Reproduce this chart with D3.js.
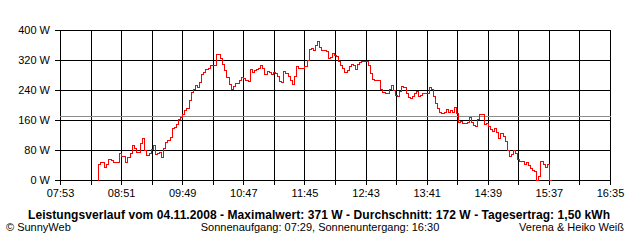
<!DOCTYPE html>
<html>
<head>
<meta charset="utf-8">
<script src="https://cdn.jsdelivr.net/npm/d3@7"></script>
<style>
  body { margin: 0; background: #fff; }
  svg { display: block; font-family: "Liberation Sans", Arial, sans-serif; }
</style>
</head>
<body>
<div id="chart"></div>
<script>
// readings: one value every 2 minutes, starting 08:29
const startTime = "08:29";
const stepMinutes = 2;
const watts = [
  0, 44, 49, 49, 35, 43, 56, 53, 48, 49,
  49, 71, 65, 64, 49, 62, 71, 93, 85, 75,
  75, 98, 111, 80, 67, 71, 84, 93, 70, 71,
  75, 62, 85, 102, 107, 115, 138, 142, 150, 164,
  167, 175, 187, 191, 213, 235, 244, 253, 249, 262,
  284, 289, 296, 298, 307, 307, 307, 336, 335, 326,
  310, 293, 276, 255, 242, 250, 259, 258, 268, 275,
  271, 267, 265, 295, 288, 293, 297, 300, 307, 298,
  284, 292, 287, 284, 289, 286, 277, 265, 262, 291,
  286, 278, 268, 256, 277, 303, 300, 298, 300, 304,
  320, 350, 351, 348, 360, 371, 355, 348, 348, 345,
  325, 328, 338, 333, 330, 318, 306, 298, 288, 293,
  305, 310, 307, 297, 309, 316, 317, 318, 318, 308,
  285, 270, 268, 268, 267, 242, 234, 231, 232, 244,
  253, 240, 227, 224, 238, 251, 248, 231, 222, 218,
  224, 231, 237, 225, 226, 231, 232, 233, 248, 242,
  225, 205, 193, 182, 180, 181, 190, 181, 188, 182,
  196, 180, 156, 158, 153, 153, 155, 168, 154, 148,
  143, 162, 175, 176, 150, 151, 145, 135, 131, 138,
  128, 112, 125, 118, 103, 80, 64, 69, 79, 73,
  57, 51, 52, 44, 47, 41, 32, 27, 25, 0,
  12, 52, 42, 36, 43, 0
];
const averageWatts = 172;
const yTicks = [0, 80, 160, 240, 320, 400];
const xTickLabels = ["07:53", "08:51", "09:49", "10:47", "11:45", "12:43", "13:41", "14:39", "15:37", "16:35"];
const axisStart = "07:53";
const axisEnd = "16:35";
const gridStepMinutes = 29;

const titleText = "Leistungsverlauf vom 04.11.2008 - Maximalwert: 371 W - Durchschnitt: 172 W - Tagesertrag: 1,50 kWh";
const copyrightText = "\u00A9 SunnyWeb";
const sunText = "Sonnenaufgang: 07:29, Sonnenuntergang: 16:30";
const authorText = "Verena & Heiko Wei\u00DF";

const toMin = s => { const [h, m] = s.split(":").map(Number); return h * 60 + m; };

const W = 640, H = 240;
const plotLeft = 60, plotRight = 610, plotTop = 30, plotBottom = 180;

const svg = d3.select("#chart").append("svg")
  .attr("width", W)
  .attr("height", H);

const x = d3.scaleLinear()
  .domain([toMin(axisStart), toMin(axisEnd)])
  .range([plotLeft, plotRight]);

const y = d3.scaleLinear()
  .domain([0, 400])
  .range([plotBottom, plotTop]);

const gridTimes = d3.range(toMin(axisStart), toMin(axisEnd) + 1, gridStepMinutes);

// grid + ticks (extend 5px outside the box)
const grid = svg.append("g")
  .attr("stroke", "#000")
  .attr("stroke-width", 1)
  .attr("shape-rendering", "crispEdges");

grid.selectAll("line.h")
  .data(yTicks)
  .join("line")
  .attr("class", "h")
  .attr("x1", plotLeft - 5)
  .attr("x2", plotRight)
  .attr("y1", d => Math.round(y(d)) + 0.5)
  .attr("y2", d => Math.round(y(d)) + 0.5);

grid.selectAll("line.v")
  .data(gridTimes)
  .join("line")
  .attr("class", "v")
  .attr("x1", d => Math.round(x(d)) + 0.5)
  .attr("x2", d => Math.round(x(d)) + 0.5)
  .attr("y1", plotTop)
  .attr("y2", plotBottom + 5);

// average line
svg.append("line")
  .attr("x1", plotLeft)
  .attr("x2", plotRight + 1)
  .attr("y1", Math.round(y(averageWatts)) + 0.5)
  .attr("y2", Math.round(y(averageWatts)) + 0.5)
  .attr("stroke", "#8c8c8c")
  .attr("shape-rendering", "crispEdges");

// power curve
const t0 = toMin(startTime);
const series = watts.map((v, i) => ({ t: t0 + i * stepMinutes, v: v }));

const line = d3.line()
  .x(d => Math.round(x(d.t)) + 0.5)
  .y(d => Math.round(y(d.v)) + 0.5)
  .curve(d3.curveStepBefore);

svg.append("path")
  .datum(series)
  .attr("fill", "none")
  .attr("stroke", "#ff0000")
  .attr("stroke-width", 1)
  .attr("shape-rendering", "crispEdges")
  .attr("d", line);

// axis labels
const yAxis = d3.axisLeft(y)
  .tickValues(yTicks)
  .tickSize(0)
  .tickPadding(10)
  .tickFormat(d => d + " W");

svg.append("g")
  .attr("transform", `translate(${plotLeft},0)`)
  .call(yAxis)
  .call(g => g.select(".domain").remove())
  .call(g => g.selectAll("text").attr("font-size", 11).attr("fill", "#000")
    .attr("font-family", "'Liberation Sans', Arial, sans-serif"));

const labelTimes = gridTimes.filter((d, i) => i % 2 === 0);
const xAxis = d3.axisBottom(x)
  .tickValues(labelTimes)
  .tickSize(0)
  .tickPadding(9)
  .tickFormat((d, i) => xTickLabels[i]);

svg.append("g")
  .attr("transform", `translate(0,${plotBottom})`)
  .call(xAxis)
  .call(g => g.select(".domain").remove())
  .call(g => g.selectAll("text").attr("font-size", 11).attr("fill", "#000")
    .attr("font-family", "'Liberation Sans', Arial, sans-serif"));

// texts below
svg.append("text")
  .attr("x", 319)
  .attr("y", 219)
  .attr("text-anchor", "middle")
  .attr("font-size", 12)
  .attr("font-weight", "bold")
  .attr("textLength", 582)
  .attr("lengthAdjust", "spacing")
  .text(titleText);

svg.append("text")
  .attr("x", 6)
  .attr("y", 231)
  .attr("font-size", 11)
  .text(copyrightText);

svg.append("text")
  .attr("x", 320)
  .attr("y", 231)
  .attr("text-anchor", "middle")
  .attr("font-size", 11)
  .text(sunText);

svg.append("text")
  .attr("x", 624)
  .attr("y", 231)
  .attr("text-anchor", "end")
  .attr("font-size", 11)
  .text(authorText);
</script>
</body>
</html>
